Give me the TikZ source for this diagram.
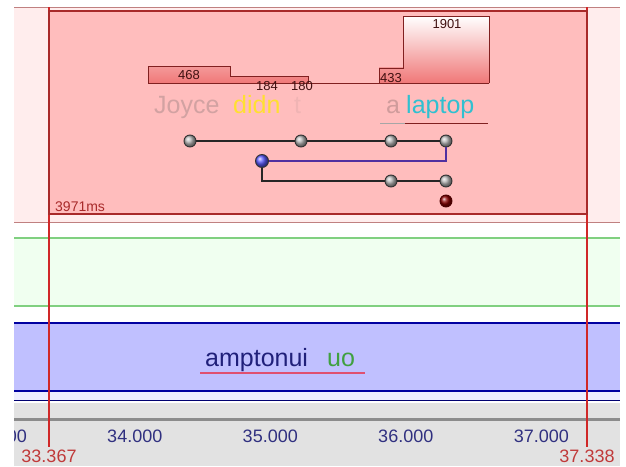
\documentclass[tikz,border=0pt]{standalone}
\usepackage{fontspec}
\setmainfont{Liberation Sans}

\definecolor{bandpink}{HTML}{FFEDED}
\definecolor{pinkline}{HTML}{C08080}
\definecolor{boxfill}{HTML}{FFBDBD}
\definecolor{boxline}{HTML}{A82A2A}
\definecolor{bandgreen}{HTML}{F0FFF0}
\definecolor{greenline}{HTML}{80D080}
\definecolor{bandblue}{HTML}{C0C0FF}
\definecolor{blueline}{HTML}{0000A0}
\definecolor{bandlav}{HTML}{EDEDFF}
\definecolor{rulergray}{HTML}{E2E2E2}
\definecolor{rulerline}{HTML}{8C8C8C}
\definecolor{cursorred}{HTML}{C03A3A}
\definecolor{cursorline}{HTML}{D02828}
\definecolor{ticknavy}{HTML}{303080}
\definecolor{barred}{HTML}{F07878}
\definecolor{barline}{HTML}{802020}
\definecolor{barlabel}{HTML}{401010}
\definecolor{blueedge}{HTML}{5030A0}
\definecolor{wjoyce}{HTML}{D2A2A2}
\definecolor{wdidn}{HTML}{FFE030}
\definecolor{wt}{HTML}{F0B4B4}
\definecolor{wa}{HTML}{D09C9C}
\definecolor{wlaptop}{HTML}{30C0D0}
\definecolor{wnavy}{HTML}{20207A}
\definecolor{wgreen}{HTML}{40A040}
\definecolor{uline}{HTML}{E05070}

\begin{document}
\begin{tikzpicture}[x=1pt,y=-1pt,
    ball/.style={circle,draw=black!80,line width=0.9pt,ball color=gray!55,inner sep=0pt,minimum size=12pt},
    word/.style={anchor=base west,inner sep=0pt,font=\fontsize{25}{30}\selectfont},
    barlab/.style={inner sep=0pt,text=barlabel,font=\fontsize{13}{15}\selectfont},
    ticklab/.style={inner sep=0pt,text=ticknavy,font=\fontsize{18}{20}\selectfont},
    cursorlab/.style={inner sep=0pt,text=cursorred,font=\fontsize{18}{20}\selectfont}]

  \useasboundingbox (0,0) rectangle (626,466);
  \fill[white] (0,0) rectangle (626,466);

  % bands
  \fill[bandpink] (14,7) rectangle (620,222);
  \draw[pinkline] (14,7) -- (620,7) (14,222) -- (620,222);
  \fill[bandgreen] (14,238) rectangle (620,306);
  \draw[greenline,line width=1.2pt] (14,238) -- (620,238) (14,306) -- (620,306);
  \fill[bandblue] (14,323) rectangle (620,391);
  \fill[bandlav] (14,391) rectangle (620,400);
  \draw[blueline,line width=2.5pt] (14,323) -- (620,323) (14,391) -- (620,391);
  \draw[blueline!70!black] (14,400) -- (620,400);
  \fill[rulergray] (14,403) rectangle (620,466);
  \draw[rulerline,line width=3pt] (14,419) -- (620,419);

  \draw[cursorline,line width=1.1pt] (49,7) -- (49,447) (587,7) -- (587,447);
  \draw[boxline,line width=2pt,fill=boxfill] (49,11) rectangle (587,214);

  % bars
  \shade[bottom color=barred,top color=barred!76!white] (148,83) rectangle (230,66.5);
  \shade[bottom color=barred,top color=barred!90!white] (230,83) rectangle (308,76.5);
  \shade[bottom color=barred,top color=barred!78!white] (379,83) rectangle (403,67.7);
  \shade[bottom color=barred,top color=white] (403,83) rectangle (489,16);
  \draw[barline] (148,83) -- (148,66.5) -- (230,66.5) -- (230,76.5) -- (308,76.5) -- (308,83);
  \draw[barline] (379,83) -- (379,67.7) -- (403,67.7) -- (403,16) -- (489,16) -- (489,83);
  \draw[barline] (148,83) -- (489,83);
  \node[barlab] (l468) at (189,75) {468};
  \node[barlab] (l184) at (267,86) {184};
  \node[barlab] (l180) at (302,86) {180};
  \node[barlab] (l433) at (391,78) {433};
  \node[barlab] (l1901) at (447,24) {1901};

  % words
  \node[word,text=wjoyce] (joyce) at (154,113) {Joyce};
  \node[word,text=wdidn] (didn) at (233,113) {didn};
  \node[word,text=wt] (tw) at (294,113) {t};
  \node[word,text=wa] (aw) at (386,113) {a};
  \node[word,text=wlaptop] (laptop) at (406,113) {laptop};
  \draw[gray!70] (380,123) -- (405,123);
  \draw[barline,line width=1pt] (405,123) -- (488,123);

  \begin{scope}[every node/.style=ball]
    \node (j1) at (190,141) {};
    \node (j2) at (301,141) {};
    \node (j3) at (391,141) {};
    \node (j4) at (446,141) {};
    \node[ball color=blue!65,minimum size=13pt] (b) at (262,161) {};
    \node (m1) at (391,181) {};
    \node (m2) at (446,181) {};
    \node[ball color=red!55!black,draw=red!30!black] (r) at (446,201) {};
  \end{scope}

  \begin{scope}[every edge/.style={draw,black!85,line width=1.2pt}]
    \path (j1) edge (j2);
    \path (j2) edge (j3);
    \path (j3) edge (j4);
    \path (m1) edge (m2);
  \end{scope}
  \draw[blueedge,line width=1.2pt] (b) -| (j4);
  \draw[black!85,line width=1.2pt] (b) |- (m1);

  \node[anchor=base west,inner sep=0pt,text=boxline,font=\fontsize{14}{16}\selectfont] (dur) at (55,211) {3971ms};

  % lower tier
  \node[word,text=wnavy] (amp) at (205,366) {amptonui};
  \node[word,text=wgreen] (uo) at (327,366) {uo};
  \draw[uline,line width=1.5pt] (200,373) -- (365,373);

  % ruler
  \begin{scope}
    \clip (14,403) rectangle (620,466);
    \foreach \t in {33,...,37}
      \node[ticklab] (t\t) at ({49+(\t-33.367)*135.5},436) {\t.000};
  \end{scope}
  \node[cursorlab] (c1) at (49,456) {33.367};
  \node[cursorlab] (c2) at (587,456) {37.338};

\end{tikzpicture}
\end{document}
